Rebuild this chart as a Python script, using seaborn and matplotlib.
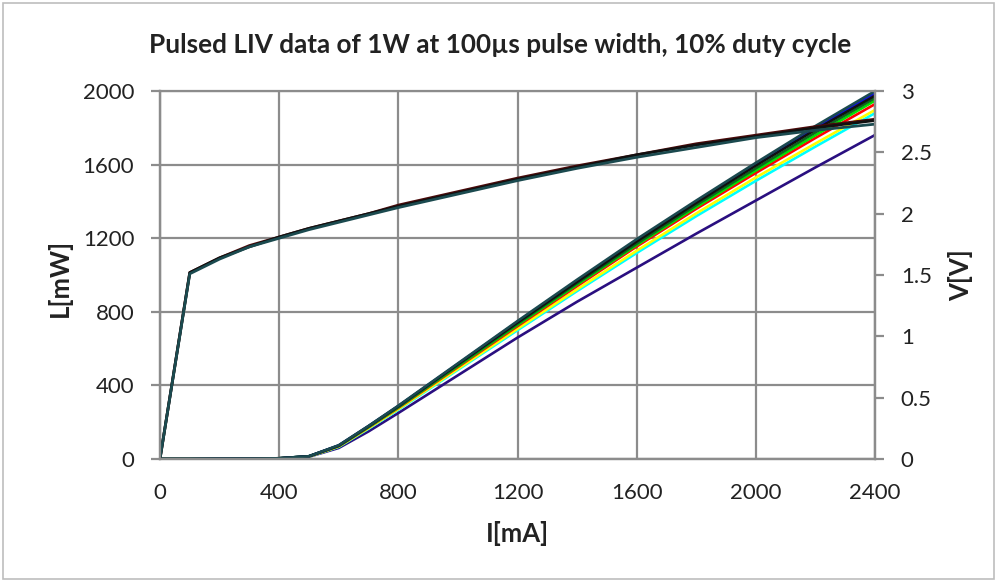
import numpy as np
import pandas as pd
import matplotlib
matplotlib.use("Agg")
import matplotlib.pyplot as plt
import seaborn as sns
from matplotlib.patches import Rectangle

# ==========================================================
# Data
# ==========================================================

current_ma = [0, 100, 200, 300, 400, 500, 600, 700, 800, 1000, 1200,
              1400, 1600, 1800, 2000, 2200, 2400]

power_navy = [0, 0, 1, 2, 3, 12, 60, 150, 250, 455, 660, 855, 1040, 1225, 1405, 1585, 1761]
power_cyan = [0, 0, 1, 2, 3, 13, 66, 165, 268, 485, 700, 913, 1120, 1320, 1512, 1698, 1880]
power_yellow = [0, 0, 1, 2, 3, 13, 68, 168, 272, 490, 708, 922, 1132, 1335, 1530, 1715, 1897]
power_red = [0, 0, 1, 2, 4, 14, 70, 172, 278, 500, 722, 940, 1155, 1360, 1555, 1745, 1929]
power_green = [0, 0, 1, 2, 4, 15, 71, 174, 281, 505, 729, 948, 1163, 1370, 1568, 1760, 1948]
power_darkgreen = [0, 0, 1, 2, 4, 15, 72, 176, 284, 510, 735, 955, 1170, 1380, 1580, 1775, 1962]
power_black = [0, 0, 1, 2, 4, 15, 73, 178, 287, 515, 742, 963, 1182, 1392, 1595, 1790, 1975]
power_blue = [0, 0, 1, 2, 4, 15, 74, 179, 288, 517, 746, 969, 1189, 1399, 1604, 1802, 1988]
power_teal = [0, 0, 1, 2, 4, 15, 75, 180, 290, 520, 750, 975, 1195, 1405, 1610, 1810, 2000]

volt_teal = [0, 1.51, 1.63, 1.73, 1.80, 1.87, 1.93, 1.99, 2.05, 2.16, 2.27, 2.37, 2.46, 2.54, 2.62, 2.68, 2.73]
volt_black = [0, 1.52, 1.64, 1.73, 1.81, 1.88, 1.94, 2.00, 2.06, 2.17, 2.28, 2.38, 2.48, 2.56, 2.63, 2.70, 2.76]
volt_darkred = [0, 1.52, 1.64, 1.74, 1.81, 1.88, 1.94, 2.00, 2.07, 2.18, 2.29, 2.39, 2.48, 2.57, 2.64, 2.71, 2.77]

power_series = [
    ("navy", power_navy, "#2A0F80"),
    ("cyan", power_cyan, "#00FFFF"),
    ("yellow", power_yellow, "#FFFF00"),
    ("red", power_red, "#FF0000"),
    ("green", power_green, "#00E000"),
    ("darkgreen", power_darkgreen, "#0A6A1A"),
    ("blue", power_blue, "#1010E0"),
    ("black", power_black, "#101010"),
    ("teal", power_teal, "#1B4A4F"),
]

volt_series = [
    ("darkred", volt_darkred, "#4A0A0A"),
    ("black", volt_black, "#101010"),
    ("teal", volt_teal, "#1B4A4F"),
]

x_ticks = [0, 400, 800, 1200, 1600, 2000, 2400]
l_ticks = [0, 400, 800, 1200, 1600, 2000]
v_ticks = [0, 0.5, 1, 1.5, 2, 2.5, 3]
v_labels = ["0", "0.5", "1", "1.5", "2", "2.5", "3"]

# ==========================================================
# Plot
# ==========================================================

sns.set_style("white")
plt.rcParams["font.family"] = ["Lato", "DejaVu Sans"]

GRID = "#8C8C8C"
TEXT = "#222222"

fig = plt.figure(figsize=(9.98, 5.82), dpi=100)
ax = fig.add_axes([0.1603, 0.2113, 0.7165, 0.6323])
ax2 = ax.twinx()

for name, values, color in power_series:
    df = pd.DataFrame({"I": current_ma, "L": values})
    sns.lineplot(data=df, x="I", y="L", ax=ax, color=color, linewidth=1.9)

for name, values, color in volt_series:
    df = pd.DataFrame({"I": current_ma, "V": values})
    sns.lineplot(data=df, x="I", y="V", ax=ax2, color=color, linewidth=2.0)

ax.set_xlim(0, 2400)
ax.set_ylim(0, 2000)
ax2.set_ylim(0, 3)

ax.set_xticks(x_ticks)
ax.set_yticks(l_ticks)
ax2.set_yticks(v_ticks)
ax2.set_yticklabels(v_labels)

ax.grid(True, color=GRID, linewidth=1.6)
ax.set_axisbelow(True)
ax2.grid(False)

for a in (ax, ax2):
    for side in ("top", "bottom", "left", "right"):
        a.spines[side].set_color(GRID)
        a.spines[side].set_linewidth(1.6)
    a.tick_params(colors=GRID, labelcolor=TEXT, labelsize=16, length=6.5, width=1.6,
                  direction="out")
ax2.spines["top"].set_visible(False)
ax.tick_params(axis="x", pad=11)
ax.tick_params(axis="y", pad=12)
ax2.tick_params(axis="y", pad=12)

ax.set_xlabel("")
ax.set_ylabel("")
ax2.set_ylabel("")

fig.text(517 / 998, 1 - 534 / 582, "I[mA]", ha="center", va="center",
         fontsize=18.5, fontweight="bold", color=TEXT)
fig.text(59 / 998, 1 - 278 / 582, "L[mW]", ha="center", va="center", rotation=90,
         fontsize=18.5, fontweight="bold", color=TEXT)
fig.text(961 / 998, 1 - 275 / 582, "V[V]", ha="center", va="center", rotation=90,
         fontsize=18.5, fontweight="bold", color=TEXT)

fig.text(500 / 998, 1 - 45 / 582, "Pulsed LIV data of 1W at 100µs pulse width, 10% duty cycle",
         ha="center", va="center", fontsize=18.8, fontweight="bold", color=TEXT)

fig.patches.append(Rectangle((0.003, 0.006), 0.993, 0.988, transform=fig.transFigure,
                             fill=False, edgecolor="#BDBDBD", linewidth=1.2))

fig.savefig("out.png", dpi=100)
